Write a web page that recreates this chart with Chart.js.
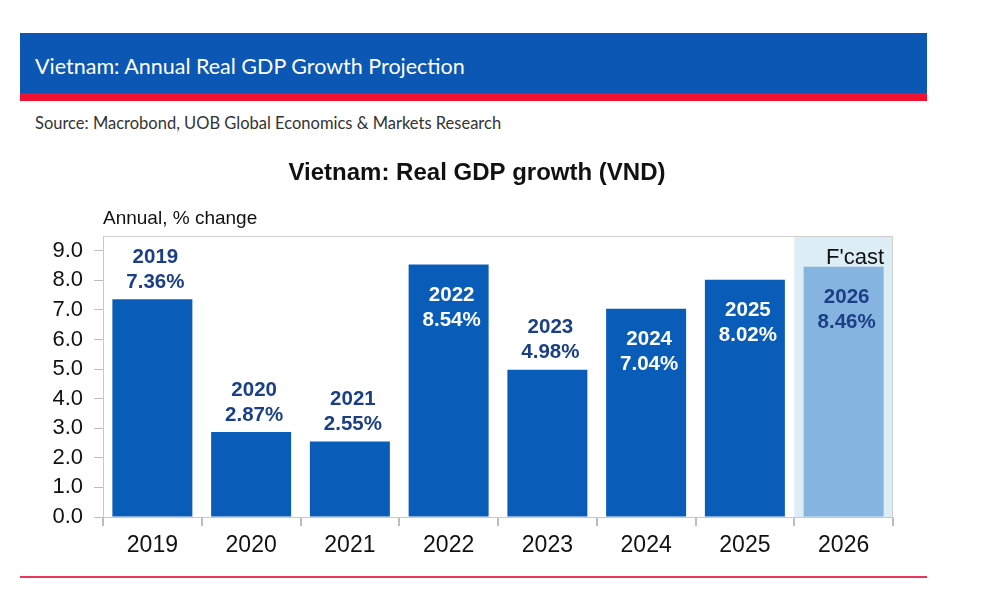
<!DOCTYPE html>
<html>
<head>
<meta charset="utf-8">
<script src="https://cdn.jsdelivr.net/npm/chart.js@4"></script>
<style>
    body { margin: 0; width: 1000px; height: 600px; background: #fff; position: relative; overflow: hidden; font-family: "Liberation Sans", Arial, sans-serif; }
    .header { position: absolute; left: 20px; top: 33px; width: 907px; height: 60px; background: #0b57b3; }
    .header span { position: absolute; left: 15px; top: 20px; color: #fff; font-family: "Lato", sans-serif; font-size: 21.5px; }
    .redbar { position: absolute; left: 20px; top: 93px; width: 907px; height: 8px; background: #f0102f; }
    .source { position: absolute; left: 35px; top: 113px; color: #333; font-family: "Lato", sans-serif; font-size: 16.5px; }
    .bottomline { position: absolute; left: 20px; top: 576px; width: 907px; height: 2px; background: #e8375a; }
    #gdpChart { position: absolute; left: 0; top: 0; }
</style>
</head>
<body>
<div class="header"><span>Vietnam: Annual Real GDP Growth Projection</span></div>
<div class="redbar"></div>
<div class="source">Source: Macrobond, UOB Global Economics &amp; Markets Research</div>
<div class="bottomline"></div>
<canvas id="gdpChart" width="1000" height="600"></canvas>
<script>
// Данные графика
const years = ['2019', '2020', '2021', '2022', '2023', '2024', '2025', '2026'];
const growth = [7.36, 2.87, 2.55, 8.54, 4.98, 7.04, 8.02, 8.46];
const valueLabels = ['7.36%', '2.87%', '2.55%', '8.54%', '4.98%', '7.04%', '8.02%', '8.46%'];
const forecastYears = ['2026'];
const yTicks = [0, 1, 2, 3, 4, 5, 6, 7, 8, 9];

// где подпись: внутри столбца или над ним
const labelInside = [false, false, false, true, false, true, true, true];

const barColors = years.map(y => forecastYears.includes(y) ? '#86b4e0' : '#0a5cb9');

const labelsPlugin = {
    id: 'gdpLabels',
    beforeDatasetsDraw(chart) {
        const { ctx, chartArea, scales } = chart;
        const x = scales.x;
        // зона прогноза
        const idx = years.indexOf(forecastYears[0]);
        const left = (x.getPixelForTick(idx - 1) + x.getPixelForTick(idx)) / 2;
        ctx.save();
        ctx.fillStyle = '#dcedf6';
        ctx.fillRect(left, chartArea.top, chartArea.right - left, chartArea.bottom - chartArea.top);
        ctx.restore();
    },
    afterDatasetsDraw(chart) {
        const { ctx, chartArea } = chart;
        const meta = chart.getDatasetMeta(0);
        ctx.save();
        // рамка
        ctx.strokeStyle = '#cfcfcf';
        ctx.lineWidth = 1;
        ctx.beginPath();
        ctx.moveTo(chartArea.left, chartArea.top + 0.5);
        ctx.lineTo(chartArea.right - 0.5, chartArea.top + 0.5);
        ctx.lineTo(chartArea.right - 0.5, chartArea.bottom);
        ctx.stroke();

        ctx.font = 'bold 20.5px "Liberation Sans", Arial, sans-serif';
        ctx.textAlign = 'center';
        ctx.textBaseline = 'middle';
        meta.data.forEach((bar, i) => {
            const cx = bar.x + 3;
            let y1, y2;
            if (labelInside[i]) {
                y1 = bar.y + 31;
                y2 = bar.y + 56;
                ctx.fillStyle = forecastYears.includes(years[i]) ? '#1b3f86' : '#ffffff';
            } else {
                y1 = bar.y - 42;
                y2 = bar.y - 17;
                ctx.fillStyle = '#1b3f86';
            }
            ctx.fillText(years[i], cx, y1);
            ctx.fillText(valueLabels[i], cx, y2);
        });

        ctx.fillStyle = '#111';
        ctx.font = '22px "Liberation Sans", Arial, sans-serif';
        ctx.textAlign = 'right';
        ctx.fillText("F'cast", chartArea.right - 9, chartArea.top + 22);

        ctx.font = 'bold 24px "Liberation Sans", Arial, sans-serif';
        ctx.textAlign = 'center';
        ctx.fillText('Vietnam: Real GDP growth (VND)', 477, 173);

        ctx.font = '19px "Liberation Sans", Arial, sans-serif';
        ctx.textAlign = 'left';
        ctx.fillText('Annual, % change', chartArea.left, 219);
        ctx.restore();
    }
};

new Chart(document.getElementById('gdpChart').getContext('2d'), {
    type: 'bar',
    data: {
        labels: years,
        datasets: [{
            data: growth,
            backgroundColor: barColors,
            borderWidth: 0,
            barPercentage: 0.81,
            categoryPercentage: 1
        }]
    },
    options: {
        responsive: false,
        animation: false,
        layout: { padding: { left: 0, right: 107, top: 236, bottom: 0 } },
        plugins: { legend: { display: false }, tooltip: { enabled: false } },
        scales: {
            x: {
                afterFit: s => { s.height = 83; },
                grid: { display: true, offset: true, drawOnChartArea: false, tickLength: 9, color: '#bdbdbd', lineWidth: 2 },
                border: { color: '#c8c8c8' },
                ticks: { color: '#111', font: { size: 23, family: '"Liberation Sans", Arial, sans-serif' }, padding: 6 }
            },
            y: {
                min: 0,
                max: 9.5,
                afterFit: s => { s.width = 103; },
                afterBuildTicks: s => { s.ticks = yTicks.map(v => ({ value: v })); },
                grid: { display: true, drawOnChartArea: false, tickLength: 9, color: '#bdbdbd' },
                border: { color: '#c8c8c8' },
                ticks: {
                    color: '#111',
                    font: { size: 22, family: '"Liberation Sans", Arial, sans-serif' },
                    padding: 11,
                    callback: v => v.toFixed(1)
                }
            }
        }
    },
    plugins: [labelsPlugin]
});
</script>
</body>
</html>
